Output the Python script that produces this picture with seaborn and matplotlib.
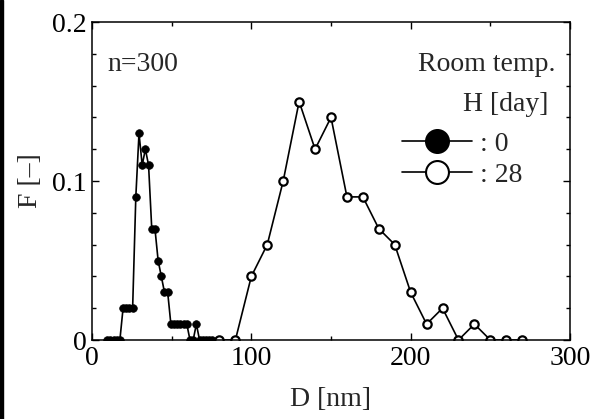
import numpy as np
import pandas as pd
import matplotlib
matplotlib.use('Agg')
import matplotlib.pyplot as plt
import seaborn as sns
from matplotlib.lines import Line2D
from matplotlib.patches import Rectangle
from matplotlib.ticker import MultipleLocator, FixedLocator, FixedFormatter

# H = 0 day (filled dots)
d_0 = [9.5, 11.5, 13.5, 15.5, 17.5, 19.5, 21.5, 23.5, 25.5, 27.5, 29.5, 31.5,
       33.5, 35.5, 37.5, 39.5, 41.5, 43.5, 45.5, 47.5, 49.5, 51.5, 53.5, 55.5,
       57.5, 59.5, 61.5, 63.5, 65.5, 67.5, 69.5, 71.5, 73.5, 75.5]
f_0 = [0, 0, 0, 0, 0, 0.02, 0.02, 0.02, 0.02, 0.09, 0.13, 0.11,
       0.12, 0.11, 0.07, 0.07, 0.05, 0.04, 0.03, 0.03, 0.01, 0.01, 0.01, 0.01,
       0.01, 0.01, 0, 0, 0.01, 0, 0, 0, 0, 0]

# H = 28 day (open circles)
d_28 = [80, 90, 100, 110, 120, 130, 140, 150, 160, 170, 180, 190, 200, 210,
        220, 230, 240, 250, 260, 270]
f_28 = [0, 0, 0.04, 0.06, 0.10, 0.15, 0.12, 0.14, 0.09, 0.09, 0.07, 0.06, 0.03,
        0.01, 0.02, 0, 0.01, 0, 0, 0]

df0 = pd.DataFrame({'D': d_0, 'F': f_0})
df28 = pd.DataFrame({'D': d_28, 'F': f_28})

sns.set_style('ticks')
plt.rcParams['font.family'] = ['Liberation Serif', 'DejaVu Serif']

fig = plt.figure(figsize=(6.01, 4.19), dpi=100)
ax = fig.add_axes([92 / 601, 1 - 340 / 419, 478 / 601, 318 / 419])

sns.lineplot(data=df0, x='D', y='F', ax=ax, color='k', lw=1.2,
             marker='o', markersize=5.5, markerfacecolor='k',
             markeredgecolor='k', markeredgewidth=0.5, legend=False)
sns.lineplot(data=df28, x='D', y='F', ax=ax, color='k', lw=1.2,
             marker='o', markersize=6, markerfacecolor='w',
             markeredgecolor='k', markeredgewidth=1.6, legend=False)

ax.set_xlim(0, 300)
ax.set_ylim(0, 0.2)
ax.xaxis.set_major_locator(MultipleLocator(100))
ax.xaxis.set_minor_locator(MultipleLocator(50))
ax.yaxis.set_major_locator(FixedLocator([0, 0.1, 0.2]))
ax.yaxis.set_major_formatter(FixedFormatter(['0', '0.1', '0.2']))
ax.yaxis.set_minor_locator(MultipleLocator(0.02))

ax.tick_params(which='both', direction='in', top=True, right=True,
               width=1.0, labelsize=20, colors='k', pad=4)
ax.tick_params(which='major', length=5)
ax.tick_params(which='minor', length=3)
for s in ax.spines.values():
    s.set_linewidth(1.1)
    s.set_color('k')

ax.set_xlabel('D [nm]', fontsize=20, labelpad=12)
ax.set_ylabel('F [–]', fontsize=20, labelpad=6)

ax.text(0.033, 0.866, 'n=300', transform=ax.transAxes, fontsize=20,
        ha='left', va='center')
ax.text(0.97, 0.866, 'Room temp.', transform=ax.transAxes, fontsize=20,
        ha='right', va='center')
ax.text(0.955, 0.742, 'H [day]', transform=ax.transAxes, fontsize=20,
        ha='right', va='center')

handles = [Line2D([], [], color='k', lw=1.2, marker='o', ms=16.5,
                  mfc='k', mec='k', mew=1.5),
           Line2D([], [], color='k', lw=1.2, marker='o', ms=16.5,
                  mfc='w', mec='k', mew=1.5)]
ax.legend(handles, [': 0', ': 28'], loc='center left',
          bbox_to_anchor=(0.649, 0.568), frameon=False, fontsize=20,
          handlelength=2.5, handletextpad=0.3, labelspacing=0.2,
          borderaxespad=0, borderpad=0)

fig.patches.append(Rectangle((0, 0), 3 / 601, 1, transform=fig.transFigure,
                             color='k', zorder=10))

fig.savefig('out.png', dpi=100)
